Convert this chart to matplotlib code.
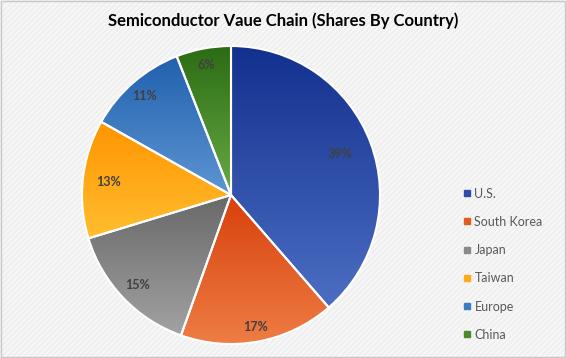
import numpy as np
import matplotlib
matplotlib.use("Agg")
import matplotlib.pyplot as plt
from matplotlib.patches import Rectangle
from matplotlib.colors import LinearSegmentedColormap

# ----------------------------------------
# Data
# ----------------------------------------
countries = ["U.S.", "South Korea", "Japan", "Taiwan", "Europe", "China"]
shares = [39, 17, 15, 13, 11, 6]
share_labels = ["39%", "17%", "15%", "13%", "11%", "6%"]

# gradient (top colour, bottom colour) per slice
top_colors = ["#12308E", "#D8400C", "#686868", "#FF9400", "#2160AE", "#2B6C14"]
bottom_colors = ["#4C6EC2", "#EE7D44", "#A2A2A2", "#FFBE30", "#5E96D2", "#68AA46"]
legend_colors = ["#2E4DA7", "#E35A1E", "#8A8A8A", "#FFAA16", "#3D7CC4", "#4A8B2E"]
label_dist = [0.78, 0.90, 0.87, 0.83, 0.88, 0.89]

plt.rcParams["font.family"] = ["Lato", "DejaVu Sans"]
plt.rcParams["hatch.linewidth"] = 0.6

fig = plt.figure(figsize=(5.66, 3.58), dpi=100)
fig.patch.set_facecolor("#F0F0F0")
# hatched chart-area background with thin border
bg = Rectangle((0, 0), 1, 1, transform=fig.transFigure, facecolor="none",
               edgecolor="white", hatch="//////", linewidth=0, zorder=-1)
fig.patches.append(bg)
border = Rectangle((0.001, 0.002), 0.997, 0.995, transform=fig.transFigure,
                   facecolor="none", edgecolor="#C8C8C8", linewidth=1.0)
fig.patches.append(border)

ax = fig.add_axes([0.1449, 0.0391, 0.5265, 0.8324])
wedges, _ = ax.pie(shares, startangle=90, counterclock=False,
                   colors=legend_colors,
                   wedgeprops=dict(edgecolor="white", linewidth=1.5))

# gradient fill clipped to each wedge
for w, c0, c1 in zip(wedges, top_colors, bottom_colors):
    ext = w.get_path().get_extents()
    cmap = LinearSegmentedColormap.from_list("g", [c0, c1])
    grad = np.linspace(0, 1, 256).reshape(-1, 1)
    im = ax.imshow(grad, cmap=cmap, aspect="auto",
                   extent=[ext.x0, ext.x1, ext.y0, ext.y1], origin="upper",
                   zorder=1)
    im.set_clip_path(w)
    w.set_facecolor("none")
    w.set_zorder(2)

# percentage labels
for w, txt, d in zip(wedges, share_labels, label_dist):
    ang = np.deg2rad((w.theta1 + w.theta2) / 2)
    ax.text(d * np.cos(ang), d * np.sin(ang), txt, ha="center", va="center",
            fontsize=9, fontweight="bold", color="#404040", zorder=3)

ax.set_xlim(-1.0, 1.0)
ax.set_ylim(-1.0, 1.0)
ax.set_aspect("equal")
ax.axis("off")

fig.text(0.5, 0.942, "Semiconductor Vaue Chain (Shares By Country)",
         ha="center", va="center", fontsize=12, fontweight="bold",
         color="black")

handles = [plt.Line2D([], [], marker="s", linestyle="none", markersize=5,
                      markerfacecolor=c, markeredgecolor=c) for c in legend_colors]
fig.legend(handles, countries, loc="upper left",
           bbox_to_anchor=(0.805, 0.49), frameon=False, fontsize=9,
           labelcolor="#595959", handletextpad=0.1, labelspacing=1.3,
           handlelength=1.0, borderaxespad=0)

fig.savefig("out.png", dpi=100, facecolor=fig.get_facecolor())
